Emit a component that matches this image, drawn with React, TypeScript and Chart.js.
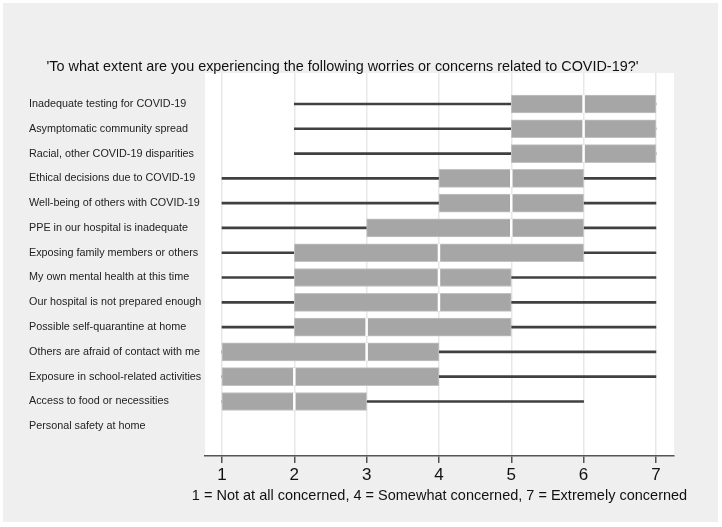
import React, { useEffect, useRef } from 'react';
import { Chart, registerables } from 'chart.js';
Chart.register(...registerables);

const categories = [
  'Inadequate testing for COVID-19',
  'Asymptomatic community spread',
  'Racial, other COVID-19 disparities',
  'Ethical decisions due to COVID-19',
  'Well-being of others with COVID-19',
  'PPE in our hospital is inadequate',
  'Exposing family members or others',
  'My own mental health at this time',
  'Our hospital is not prepared enough',
  'Possible self-quarantine at home',
  'Others are afraid of contact with me',
  'Exposure in school-related activities',
  'Access to food or necessities',
  'Personal safety at home',
];
const mins: (number | null)[] = [2, 2, 2, 1, 1, 1, 1, 1, 1, 1, 1, 1, 1, null];
const q1s: (number | null)[] = [5, 5, 5, 4, 4, 3, 2, 2, 2, 2, 1, 1, 1, null];
const medians: (number | null)[] = [6, 6, 6, 5, 5, 5, 4, 4, 4, 3, 3, 2, 2, null];
const q3s: (number | null)[] = [7, 7, 7, 6, 6, 6, 6, 5, 5, 5, 4, 4, 3, null];
const maxs: (number | null)[] = [7, 7, 7, 7, 7, 7, 7, 7, 7, 7, 7, 7, 6, null];
const xTicks = [1, 2, 3, 4, 5, 6, 7];
const chartTitle = "'To what extent are you experiencing the following worries or concerns related to COVID-19?'";
const xTitle = '1 = Not at all concerned, 4 = Somewhat concerned, 7 = Extremely concerned';

const FONT = '"Liberation Sans", Arial, Helvetica, sans-serif';

export default function App() {
  const ref = useRef<HTMLCanvasElement | null>(null);
  useEffect(() => {
    if (!ref.current) return;
    const idx = categories.map((_, i) => i).filter((i) => mins[i] != null);
    const bgPlugin = {
      id: 'bgPlugin',
      beforeDraw(chart: any) {
        const { ctx, chartArea } = chart;
        ctx.save();
        ctx.fillStyle = '#ffffff';
        ctx.fillRect(0, 0, chart.width, chart.height);
        ctx.fillStyle = '#efefef';
        ctx.fillRect(3, 3, 715, 519);
        ctx.fillStyle = '#ffffff';
        ctx.fillRect(chartArea.left, chartArea.top, chartArea.right - chartArea.left, chartArea.bottom - chartArea.top);
        ctx.restore();
      },
      afterDraw(chart: any) {
        const { ctx, chartArea } = chart;
        ctx.save();
        ctx.fillStyle = '#111111';
        ctx.textBaseline = 'middle';
        ctx.textAlign = 'center';
        ctx.font = `14.4px ${FONT}`;
        ctx.fillText(chartTitle, 342.5, 67);
        ctx.textBaseline = 'alphabetic';
        ctx.font = `14.5px ${FONT}`;
        ctx.fillText(xTitle, (chartArea.left + chartArea.right) / 2, 499.5);
        ctx.restore();
      },
    };
    const chart = new Chart(ref.current, {
      type: 'bar',
      data: {
        datasets: [
          {
            type: 'bar',
            indexAxis: 'y',
            grouped: false,
            order: 3,
            data: idx.map((i) => ({ x: [mins[i], maxs[i]], y: i })) as any,
            backgroundColor: '#404040',
            borderWidth: 0,
            barThickness: 2,
          },
          {
            type: 'bar',
            indexAxis: 'y',
            grouped: false,
            order: 2,
            data: idx.map((i) => ({ x: [q1s[i], q3s[i]], y: i })) as any,
            backgroundColor: '#a6a6a6',
            borderColor: '#c2c2c2',
            borderWidth: 1,
            borderSkipped: false,
            barThickness: 18,
          },
          {
            type: 'scatter',
            order: 1,
            data: idx.map((i) => ({ x: medians[i], y: i })) as any,
            pointStyle: 'line',
            rotation: 90,
            radius: 9,
            borderColor: '#ffffff',
            borderWidth: 2.5,
            backgroundColor: '#ffffff',
            showLine: false,
          } as any,
        ],
      },
      options: {
        animation: false,
        responsive: false,
        events: [],
        layout: { padding: { left: 29, top: 73, right: 48, bottom: 0 } },
        plugins: { legend: { display: false }, tooltip: { enabled: false }, title: { display: false } },
        scales: {
          x: {
            type: 'linear',
            offset: false,
            min: 0.765,
            max: 7.25,
            afterBuildTicks: (s: any) => {
              s.ticks = xTicks.map((v) => ({ value: v }));
            },
            afterFit: (s: any) => {
              s.height = 71;
            },
            grid: {
              offset: false,
              color: '#e8e8e8',
              lineWidth: 1.5,
              tickColor: '#555555',
              tickLength: 7,
              tickWidth: 1.5,
            },
            border: { display: true, color: '#555555', width: 1.5 },
            ticks: {
              color: '#111111',
              font: { family: FONT, size: 17 },
              padding: 2,
              maxRotation: 0,
            },
          },
          y: {
            type: 'linear',
            offset: false,
            reverse: true,
            min: -1.25,
            max: 14.2,
            afterBuildTicks: (s: any) => {
              s.ticks = categories.map((_, i) => ({ value: i }));
            },
            afterFit: (s: any) => {
              s.width = 176;
            },
            grid: { display: false, drawTicks: false, offset: false },
            border: { display: false },
            ticks: {
              crossAlign: 'far',
              color: '#222222',
              font: { family: FONT, size: 10.8 },
              callback: (v: any) => categories[v as number] ?? '',
              autoSkip: false,
            },
          },
        },
      } as any,
      plugins: [bgPlugin],
    });
    return () => chart.destroy();
  }, []);
  return (
    <div style={{ position: 'fixed', left: 0, top: 0, width: 722, height: 527 }}>
      <canvas ref={ref} width={722} height={527} />
    </div>
  );
}
